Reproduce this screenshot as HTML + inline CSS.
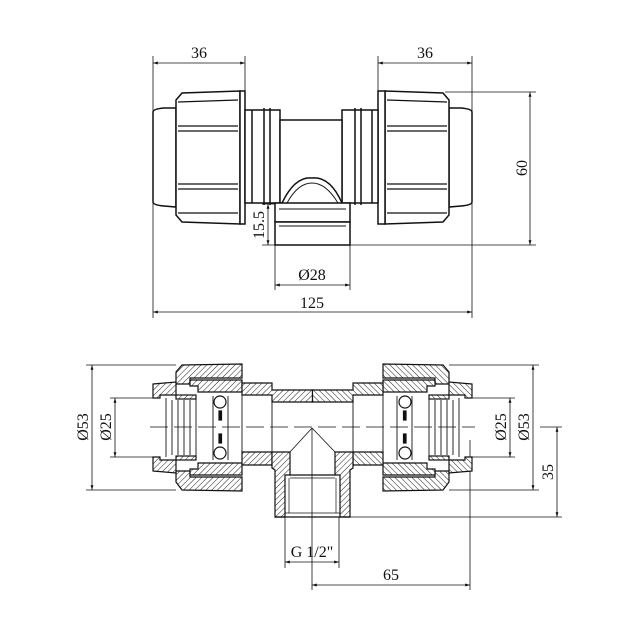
<!DOCTYPE html>
<html><head><style>body{margin:0;background:#fff}svg{display:block}text{font-family:"Liberation Serif",serif;font-size:16px;fill:#111}</style></head>
<body>
<svg width="630" height="630" viewBox="0 0 630 630" xmlns="http://www.w3.org/2000/svg">
<defs>
<pattern id="h" patternUnits="userSpaceOnUse" width="4" height="4" patternTransform="rotate(45)">
<rect width="4" height="4" fill="#fff"/><line x1="0" y1="0" x2="0" y2="4" stroke="#222" stroke-width="1"/>
</pattern>
<marker id="a" viewBox="0 0 10 10" refX="10" refY="5" markerWidth="9" markerHeight="6" orient="auto-start-reverse"><path d="M0,2 L10,5 L0,8 z" fill="#111"/></marker>
</defs>
<g stroke="#111" fill="none" stroke-width="0.8">
<line x1="153" y1="56" x2="153" y2="318"/><line x1="245" y1="56" x2="245" y2="92"/>
<line x1="378" y1="56" x2="378" y2="92"/><line x1="472" y1="56" x2="472" y2="318"/>
<line x1="153" y1="63" x2="245" y2="63" marker-start="url(#a)" marker-end="url(#a)"/>
<line x1="378" y1="63" x2="472" y2="63" marker-start="url(#a)" marker-end="url(#a)"/>
<line x1="445" y1="92" x2="536" y2="92"/><line x1="262" y1="245" x2="536" y2="245"/>
<line x1="530" y1="92" x2="530" y2="245" marker-start="url(#a)" marker-end="url(#a)"/>
<line x1="268" y1="204" x2="268" y2="245" marker-start="url(#a)" marker-end="url(#a)"/>
<line x1="262" y1="204" x2="275" y2="204"/>
<line x1="275" y1="245" x2="275" y2="290"/><line x1="350" y1="245" x2="350" y2="290"/>
<line x1="275" y1="285" x2="350" y2="285" marker-start="url(#a)" marker-end="url(#a)"/>
<line x1="153" y1="312" x2="472" y2="312" marker-start="url(#a)" marker-end="url(#a)"/>
</g>
<g stroke="#111" fill="#fff" stroke-width="1.5">
<path d="M153,112 Q153,109 164,108 L176,108 L176,207 L164,206 Q153,205 153,202 Z"/>
<path d="M176,100 L182,93 L240,91 L240,224 L182,222 L176,215 Z"/>
<rect x="240" y="91" width="5" height="133"/>
<rect x="245" y="110" width="35" height="93"/>
<line x1="252" y1="110" x2="252" y2="203"/><line x1="264" y1="108" x2="264" y2="205"/><line x1="270" y1="108" x2="270" y2="205"/>
<path d="M472,112 Q472,109 461,108 L449,108 L449,207 L461,206 Q472,205 472,202 Z"/>
<path d="M449,100 L443,93 L385,91 L385,224 L443,222 L449,215 Z"/>
<rect x="378" y="91" width="7" height="133"/>
<rect x="342" y="110" width="36" height="93"/>
<line x1="372" y1="110" x2="372" y2="203"/><line x1="361" y1="108" x2="361" y2="205"/><line x1="355" y1="108" x2="355" y2="205"/>
<rect x="280" y="120" width="62" height="83"/>
<path d="M282,203 Q295,176 312,178 Q330,176 342,203"/>
<path d="M287,203 Q298,183 312,183 Q326,183 338,203" stroke-width="0.9"/>
<rect x="275" y="203" width="75" height="19"/>
<rect x="275" y="222" width="75" height="23"/>
<line x1="279" y1="209" x2="346" y2="209" stroke-width="0.9"/><line x1="279" y1="226" x2="346" y2="226" stroke-width="0.9"/>
</g>
<g stroke="#111" stroke-width="1.3" fill="none">
<path d="M178,102 L238,100 M178,126 L238,126 M178,131 L238,131 M178,184 L238,184 M178,189 L238,189 M178,213 L238,213"/>
<path d="M447,102 L387,100 M447,126 L387,126 M447,131 L387,131 M447,184 L387,184 M447,189 L387,189 M447,213 L387,213"/>
</g>
<text x="199" y="58" text-anchor="middle">36</text>
<text x="425" y="58" text-anchor="middle">36</text>
<text x="312" y="280" text-anchor="middle">Ø28</text>
<text x="312" y="308" text-anchor="middle">125</text>
<text transform="translate(527,168) rotate(-90)" text-anchor="middle">60</text>
<text transform="translate(264,225) rotate(-90)" text-anchor="middle">15.5</text>

<g stroke="#111" fill="none" stroke-width="0.8">
<line x1="86" y1="365" x2="176" y2="365"/><line x1="86" y1="490" x2="176" y2="490"/>
<line x1="92" y1="365" x2="92" y2="490" marker-start="url(#a)" marker-end="url(#a)"/>
<line x1="110" y1="398" x2="160" y2="398"/><line x1="110" y1="457" x2="160" y2="457"/>
<line x1="115" y1="398" x2="115" y2="457" marker-start="url(#a)" marker-end="url(#a)"/>
<line x1="449" y1="365" x2="539" y2="365"/><line x1="449" y1="490" x2="539" y2="490"/>
<line x1="533" y1="365" x2="533" y2="490" marker-start="url(#a)" marker-end="url(#a)"/>
<line x1="465" y1="398" x2="515" y2="398"/><line x1="465" y1="457" x2="515" y2="457"/>
<line x1="510" y1="398" x2="510" y2="457" marker-start="url(#a)" marker-end="url(#a)"/>
<line x1="540" y1="427" x2="562" y2="427"/><line x1="350" y1="517" x2="562" y2="517"/>
<line x1="557" y1="427" x2="557" y2="517" marker-start="url(#a)" marker-end="url(#a)"/>
<line x1="285" y1="517" x2="285" y2="568"/><line x1="339" y1="517" x2="339" y2="568"/>
<line x1="285" y1="562" x2="339" y2="562" marker-start="url(#a)" marker-end="url(#a)"/>
<line x1="312" y1="428" x2="312" y2="590"/><line x1="470" y1="440" x2="470" y2="590"/>
<line x1="312" y1="585" x2="470" y2="585" marker-start="url(#a)" marker-end="url(#a)"/>
<line x1="150" y1="427" x2="475" y2="427" stroke-dasharray="18,6"/>
<line x1="290" y1="452" x2="312" y2="428"/><line x1="335" y1="452" x2="312" y2="428"/>
</g>
<g id="L" stroke="#111" stroke-width="1.2">
<path fill="url(#h)" d="M176,372 L182,365 L242,364 L242,378 L190,378 L190,384 L176,384 Z"/>
<path fill="url(#h)" d="M176,482 L182,490 L242,491 L242,477 L190,477 L190,471 L176,471 Z"/>
<path fill="url(#h)" d="M153,384 L176,382 L176,395 L160,395 L160,398 L153,398 Z"/>
<path fill="url(#h)" d="M153,471 L176,473 L176,460 L160,460 L160,457 L153,457 Z"/>
<path fill="url(#h)" d="M190,380 L242,380 L242,392 L198,392 L198,386 L190,386 Z"/>
<path fill="url(#h)" d="M190,475 L242,475 L242,463 L198,463 L198,469 L190,469 Z"/>
<path fill="url(#h)" d="M242,383 L272,383 L272,390 L312.5,390 L312.5,402 L272,402 L272,395 L242,395 Z"/>
<path fill="url(#h)" d="M242,465 L272,465 L272,452 L242,452 Z"/>
<rect x="176" y="395" width="20" height="4" fill="url(#h)"/>
<rect x="176" y="456" width="20" height="4" fill="url(#h)"/>
<g fill="none" stroke-width="0.9">
<line x1="166" y1="398" x2="166" y2="457"/><line x1="172" y1="400" x2="172" y2="455"/>
<line x1="178" y1="400" x2="178" y2="455"/><line x1="184" y1="400" x2="184" y2="455"/>
<line x1="190" y1="400" x2="190" y2="455"/><line x1="196" y1="398" x2="196" y2="457"/>
<line x1="213" y1="396" x2="213" y2="460"/><line x1="228" y1="396" x2="228" y2="460"/>
<line x1="242" y1="395" x2="242" y2="452"/><line x1="272" y1="402" x2="272" y2="452"/>
</g>
<circle cx="220" cy="402" r="6" fill="#fff"/><circle cx="220" cy="453" r="6" fill="#fff"/>
<rect x="219" y="411" width="2.5" height="9" fill="#111"/><rect x="219" y="434" width="2.5" height="9" fill="#111"/>
</g>
<use href="#L" transform="translate(625,0) scale(-1,1)"/>
<g stroke="#111" stroke-width="1.2">
<path fill="url(#h)" d="M272,452 L290,452 L290,475 L285,475 L285,517 L275,517 L275,470 L272,468 Z"/>
<path fill="url(#h)" d="M353,452 L335,452 L335,475 L340,475 L340,517 L350,517 L350,470 L353,468 Z"/>
<line x1="290" y1="475" x2="335" y2="475"/><line x1="290" y1="478" x2="335" y2="478" stroke-width="0.7"/>
<line x1="289" y1="478" x2="289" y2="513" stroke-width="0.7"/><line x1="336" y1="478" x2="336" y2="513" stroke-width="0.7"/>
<line x1="275" y1="517" x2="350" y2="517"/><line x1="285" y1="513" x2="340" y2="513" stroke-width="0.7"/>
</g>
<text transform="translate(88,427) rotate(-90)" text-anchor="middle">Ø53</text>
<text transform="translate(111,427) rotate(-90)" text-anchor="middle">Ø25</text>
<text transform="translate(506,427) rotate(-90)" text-anchor="middle">Ø25</text>
<text transform="translate(529,427) rotate(-90)" text-anchor="middle">Ø53</text>
<text transform="translate(553,472) rotate(-90)" text-anchor="middle">35</text>
<text x="312" y="557" text-anchor="middle">G 1/2"</text>
<text x="391" y="580" text-anchor="middle">65</text>
</svg>
</body></html>
